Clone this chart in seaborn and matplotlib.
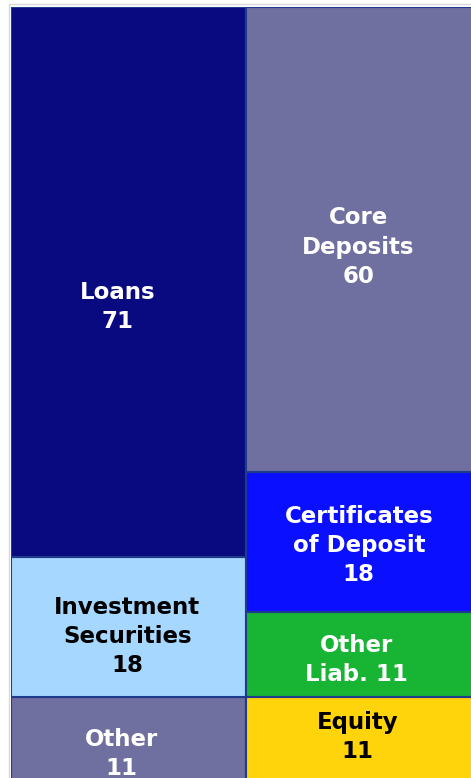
import matplotlib
matplotlib.use("Agg")
import matplotlib.pyplot as plt
import seaborn as sns
import pandas as pd

sns.set_theme(style="white")
plt.rcParams['font.family'] = ['DejaVu Sans']

# Data
sides = ["Assets", "Assets", "Assets", "Liabilities", "Liabilities", "Liabilities", "Liabilities"]
labels = ["Other\n11", "Investment\nSecurities\n18", "Loans\n71",
          "Equity\n11", "Other\nLiab. 11", "Certificates\nof Deposit\n18", "Core\nDeposits\n60"]
values = [11, 18, 71, 11, 11, 18, 60]
order = ["Assets", "Liabilities"]

# Styles
colors = ["#7070A0", "#A6D8FF", "#0A0A80", "#FFD40A", "#18B434", "#0A10FF", "#7070A0"]
text_colors = ["white", "black", "white", "black", "white", "white", "white"]
label_shift = [-1.9, -1.2, -3.2, 0.3, -0.8, -0.5, -1.0]
label_xshift = [-0.03, -0.005, -0.047, -0.025, -0.03, -0.02, -0.022]

W, H = 471, 778
fig = plt.figure(figsize=(W / 100, H / 100), dpi=100)
ax = fig.add_axes([11 / W, 0 - 4 / H, 470 / W, 775 / H])

bottoms = {"Assets": 0, "Liabilities": 0}
for side, lab, val, col, tc, sh, xs in zip(sides, labels, values, colors, text_colors,
                                           label_shift, label_xshift):
    df = pd.DataFrame({"side": [side], "value": [val]})
    sns.barplot(data=df, x="side", y="value", order=order, bottom=bottoms[side],
                color=col, saturation=1, width=1.0, edgecolor="#1F3B8C",
                linewidth=1.5, ax=ax)
    xi = order.index(side)
    ax.text(xi + xs, bottoms[side] + val / 2 + sh, lab, ha="center", va="center",
            color=tc, fontsize=16.5, fontweight="bold", linespacing=1.35)
    bottoms[side] += val

ax.set_xlim(-0.5, 1.5)
ax.set_ylim(0, 100)
ax.set_xlabel("")
ax.set_ylabel("")
ax.set_xticks([])
ax.set_yticks([])
for s in ax.spines.values():
    s.set_visible(False)

fig.add_artist(plt.Line2D([9 / W, 9 / W], [0, 1 - 4 / H], color="#D8D8D8", lw=1))
fig.add_artist(plt.Line2D([9 / W, 1], [1 - 4 / H, 1 - 4 / H], color="#D8D8D8", lw=1))

fig.savefig("out.png", dpi=100)
